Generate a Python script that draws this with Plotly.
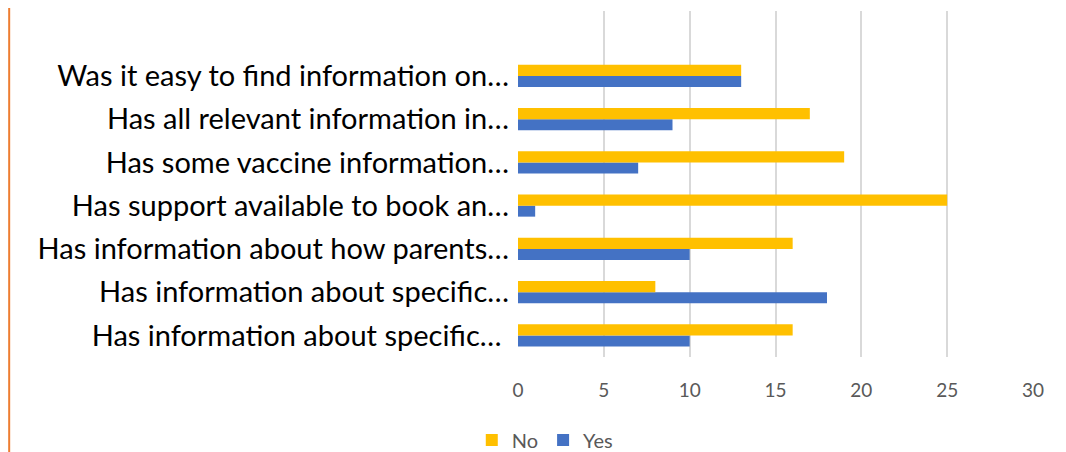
import plotly.graph_objects as go

# labels top -> bottom, as shown on the chart (truncated by the source)
questions = [
    "Was it easy to find information on…",
    "Has all relevant information in…",
    "Has some vaccine information…",
    "Has support available to book an…",
    "Has information about how parents…",
    "Has information about specific…",
    "Has information about specific… ",
]
no_vals = [13, 17, 19, 25, 16, 8, 16]
yes_vals = [13, 9, 7, 1, 10, 18, 10]
x_ticks = [0, 5, 10, 15, 20, 25, 30]

# bottom-up positions for plotting
pos = list(range(len(questions)))[::-1]

fig = go.Figure()
fig.add_trace(go.Bar(
    y=pos, x=yes_vals, name="Yes", orientation="h",
    marker=dict(color="#4472C4", line=dict(width=0)),
))
fig.add_trace(go.Bar(
    y=pos, x=no_vals, name="No", orientation="h",
    marker=dict(color="#FFC000", line=dict(width=0)),
))

# page body adds an 8px offset, margins compensate for it
fig.update_layout(
    width=1066, height=452,
    margin=dict(l=510, r=41, t=3, b=103, autoexpand=False),
    barmode="group",
    bargap=0.49,
    bargroupgap=0,
    plot_bgcolor="white",
    paper_bgcolor="white",
    font=dict(family="Lato, Noto Sans, sans-serif", color="#595959"),
    legend=dict(
        orientation="h", traceorder="reversed",
        x=0.052, xanchor="center", y=-0.24, yanchor="middle",
        font=dict(size=20, color="#595959"),
        itemwidth=30,
    ),
    showlegend=True,
)
fig.update_xaxes(
    range=[0, 30], tickvals=x_ticks, automargin=False,
    showgrid=True, gridcolor="#D9D9D9", gridwidth=2,
    zeroline=False, showline=False,
    tickfont=dict(size=19, color="#595959"),
    ticks="", ticklabelstandoff=20,
)
fig.update_yaxes(
    range=[-0.5, 7.5], automargin=False,
    tickvals=pos, ticktext=questions,
    showgrid=False, zeroline=False, showline=False,
    tickfont=dict(size=29, color="#000000"),
    ticks="", ticklabelstandoff=8,
)

# orange border line on the left edge
fig.add_shape(type="line", xref="paper", yref="paper",
              x0=-0.988, x1=-0.988, y0=-0.4, y1=1.2,
              line=dict(color="#ED7D31", width=2))

fig.write_html("out.html")
